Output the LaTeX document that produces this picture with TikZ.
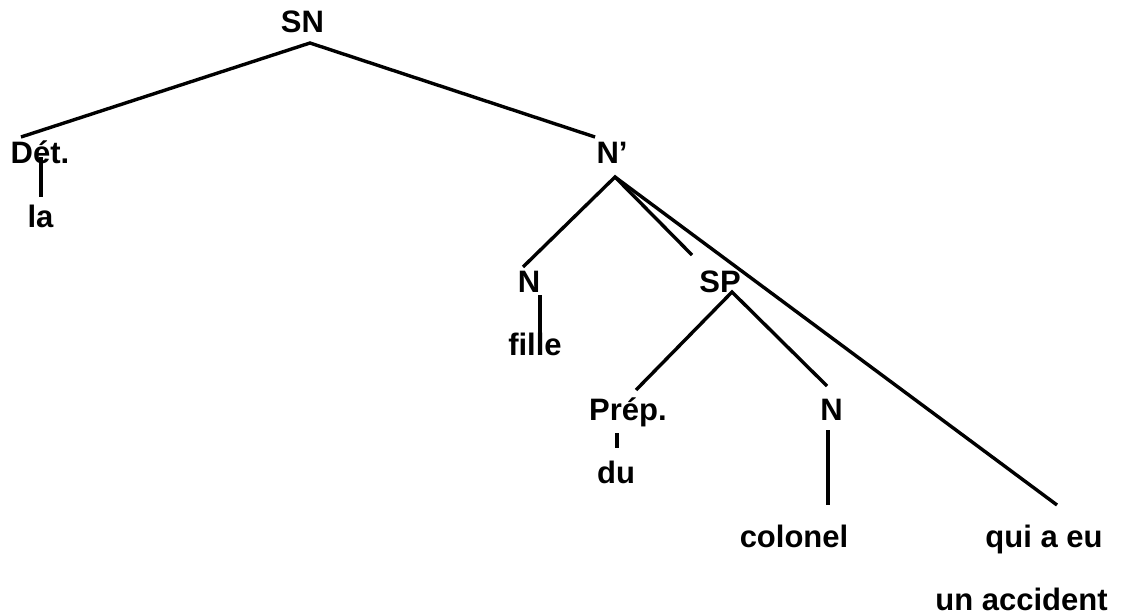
\documentclass[tikz,border=0pt]{standalone}
\usepackage{fontspec}
\setmainfont{Liberation Sans}
\begin{document}
\begin{tikzpicture}[x=0.5pt,y=-0.5pt,
  lbl/.style={inner sep=0pt,anchor=base,font=\fontsize{15.5}{18}\selectfont\bfseries},
  edge/.style={line width=1.7pt}]
\useasboundingbox (0,0) rectangle (1124,615);
% labels
\node[lbl] (SN) at (302.5,33) {SN};
\node[lbl] (Det) at (40,163) {Dét.};
\node[lbl] (la) at (40.5,227) {la};
\node[lbl] (Nbar) at (612,163) {N’};
\node[lbl] (N1) at (529,292) {N};
\node[lbl] (fille) at (535,355) {fille};
\node[lbl] (SP) at (720,292) {SP};
\node[lbl] (Prep) at (628,420) {Prép.};
\node[lbl] (du) at (616,483) {du};
\node[lbl] (N2) at (831.5,420) {N};
\node[lbl] (colonel) at (794,547) {colonel};
\node[lbl] (qui) at (1044,547) {qui a eu};
\node[lbl] (acc) at (1021.5,610) {un accident};
% connector ends
\coordinate (SNb) at (310,43);
\coordinate (Dett) at (21,137);
\coordinate (Nbart) at (595,137);
\coordinate (Detb) at (41,157);
\coordinate (lat) at (41,197);
\coordinate (Nbarb) at (615,177);
\coordinate (N1t) at (523,267);
\coordinate (SPt) at (692,255);
\coordinate (quit) at (1057,505);
\coordinate (N1b) at (540,295);
\coordinate (fillet) at (540,333);
\coordinate (SPb) at (732,292);
\coordinate (Prept) at (636,390);
\coordinate (N2t) at (827,386);
\coordinate (Prepb) at (617,433);
\coordinate (dut) at (617,448);
\coordinate (N2b) at (828,430);
\coordinate (colonelt) at (828,505);
% connectors
\draw[edge] (Dett) -- (SNb) -- (Nbart);
\draw[edge] (Detb) -- (lat);
\draw[edge] (N1t) -- (Nbarb) -- (SPt);
\draw[edge] (Nbarb) -- (quit);
\draw[edge] (N1b) -- (fillet);
\draw[edge] (Prept) -- (SPb) -- (N2t);
\draw[edge] (Prepb) -- (dut);
\draw[edge] (N2b) -- (colonelt);
\end{tikzpicture}
\end{document}
